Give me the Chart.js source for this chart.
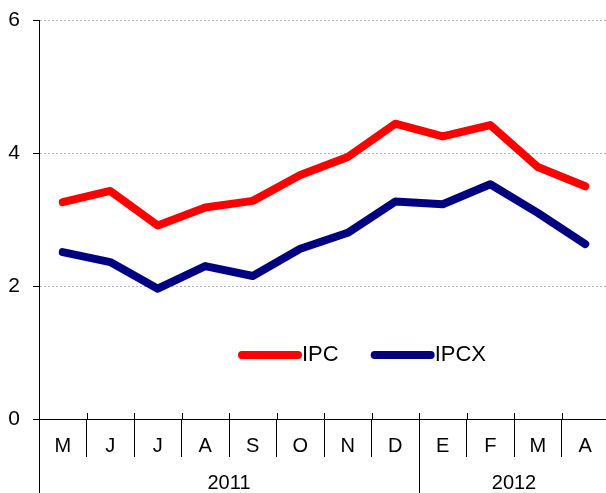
<!DOCTYPE html>
<html>
<head>
<meta charset="utf-8">
<script src="https://cdn.jsdelivr.net/npm/chart.js@4"></script>
<style>
html, body { margin: 0; padding: 0; overflow: hidden; background: #fff; }
#wrap { width: 610px; height: 493px; position: relative; }
</style>
</head>
<body>
<div id="wrap"><canvas id="chart"></canvas></div>
<script>
const months = ['M', 'J', 'J', 'A', 'S', 'O', 'N', 'D', 'E', 'F', 'M', 'A'];
const years = ['2011', '2012'];
const yearStart = [0, 8];
const ipc = [3.26, 3.43, 2.91, 3.18, 3.28, 3.67, 3.94, 4.44, 4.25, 4.42, 3.79, 3.50];
const ipcx = [2.51, 2.36, 1.96, 2.30, 2.15, 2.56, 2.80, 3.27, 3.23, 3.53, 3.10, 2.63];

const FONT = "'Liberation Sans', Arial, sans-serif";

// year labels, separators and the floating legend
const extras = {
    id: 'extras',
    afterDraw(chart) {
        const ctx = chart.ctx;
        const x = chart.scales.x;
        const area = chart.chartArea;
        const h = chart.height;
        const half = (x.getPixelForValue(1) - x.getPixelForValue(0)) / 2;
        const edge = i => i < months.length ? x.getPixelForValue(i) - half : x.getPixelForValue(months.length - 1) + half;

        ctx.save();
        ctx.strokeStyle = '#000';
        ctx.lineWidth = 1;
        ctx.beginPath();
        for (let i = 1; i <= months.length; i++) {
            const px = Math.round(edge(i)) + 0.5;
            ctx.moveTo(px, area.bottom - 6);
            ctx.lineTo(px, area.bottom);
        }
        const lx = Math.round(area.left) + 0.5;
        ctx.moveTo(lx, area.bottom);
        ctx.lineTo(lx, h);
        yearStart.slice(1).forEach(s => {
            const px = Math.round(edge(s)) + 0.5;
            ctx.moveTo(px, area.bottom);
            ctx.lineTo(px, h);
        });
        ctx.stroke();

        ctx.fillStyle = '#000';
        ctx.font = '20px ' + FONT;
        ctx.textAlign = 'center';
        ctx.textBaseline = 'middle';
        years.forEach((y, k) => {
            const a = edge(yearStart[k]);
            const b = edge(k + 1 < yearStart.length ? yearStart[k + 1] : months.length);
            ctx.fillText(y, (a + b) / 2, area.bottom + 64);
        });

        // legend
        ctx.font = '22px ' + FONT;
        ctx.textAlign = 'left';
        let lxPos = 242;
        const ly = 355;
        chart.data.datasets.forEach(ds => {
            ctx.strokeStyle = ds.borderColor;
            ctx.lineWidth = 8;
            ctx.lineCap = 'round';
            ctx.beginPath();
            ctx.moveTo(lxPos, ly);
            ctx.lineTo(lxPos + 56, ly);
            ctx.stroke();
            ctx.fillText(ds.label, lxPos + 60, ly);
            lxPos += 60 + ctx.measureText(ds.label).width + 36;
        });
        ctx.restore();
    }
};

new Chart(document.getElementById('chart'), {
    type: 'line',
    data: {
        labels: months,
        datasets: [
            { label: 'IPC', data: ipc, borderColor: '#FF0000', backgroundColor: '#FF0000', borderWidth: 8, tension: 0, pointRadius: 0, borderCapStyle: 'round', borderJoinStyle: 'round' },
            { label: 'IPCX', data: ipcx, borderColor: '#000080', backgroundColor: '#000080', borderWidth: 8, tension: 0, pointRadius: 0, borderCapStyle: 'round', borderJoinStyle: 'round' }
        ]
    },
    options: {
        responsive: true,
        maintainAspectRatio: false,
        animation: false,
        layout: { padding: { top: 20, right: 1, left: 0, bottom: 0 } },
        plugins: { legend: { display: false }, tooltip: { enabled: false } },
        scales: {
            x: {
                offset: true,
                grid: { offset: true, drawOnChartArea: false, color: '#000', tickLength: 38, lineWidth: 1 },
                border: { color: '#000', width: 1 },
                ticks: { color: '#000', font: { size: 20, family: FONT }, padding: -23, maxRotation: 0, autoSkip: false },
                afterFit: s => { s.height = 74; }
            },
            y: {
                min: 0,
                max: 6,
                grid: {
                    color: c => c.tick && c.tick.value === 0 ? 'rgba(0,0,0,0)' : '#b4b4b4',
                    tickColor: '#000',
                    tickLength: 6,
                    tickBorderDash: []
                },
                border: { color: '#000', width: 1, dash: [2, 2] },
                ticks: { stepSize: 2, color: '#000', font: { size: 21, family: FONT }, padding: 13 },
                afterFit: s => { s.width = 39; s.paddingTop = 0; s.paddingBottom = 0; }
            }
        }
    },
    plugins: [extras]
});
</script>
</body>
</html>
